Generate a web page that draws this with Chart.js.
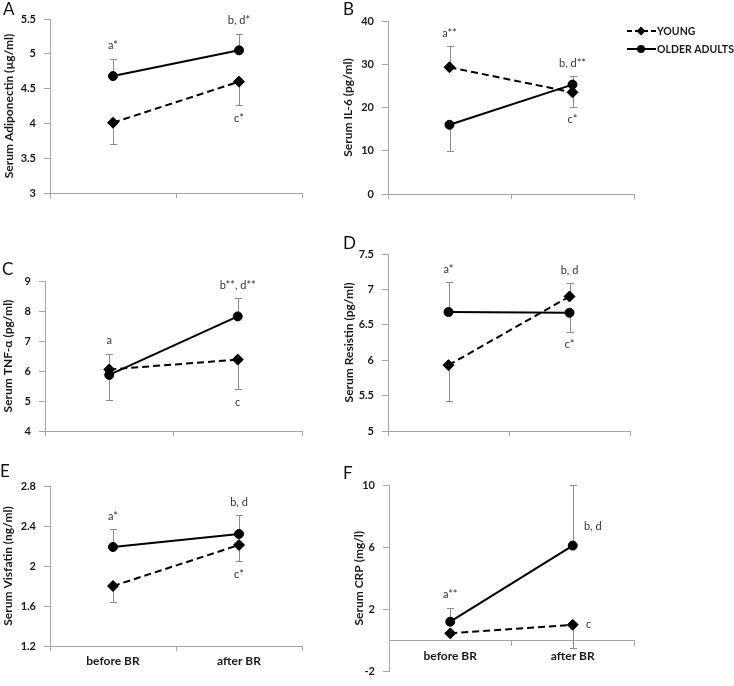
<!DOCTYPE html>
<html>
<head>
<meta charset="utf-8">
<script src="https://cdn.jsdelivr.net/npm/chart.js@4.4.0/dist/chart.umd.min.js"></script>
<style>
html, body { margin: 0; padding: 0; background: #fff; }
#wrap { position: relative; width: 734px; height: 686px; overflow: hidden; font-family: Lato, sans-serif; }
#wrap canvas { position: absolute; left: 0; top: 0; }
.lbl { position: absolute; font-size: 17px; line-height: 1; color: #111; }
</style>
</head>
<body>
<div id="wrap">
  <canvas id="cA" width="734" height="686"></canvas>
  <canvas id="cB" width="734" height="686"></canvas>
  <canvas id="cC" width="734" height="686"></canvas>
  <canvas id="cD" width="734" height="686"></canvas>
  <canvas id="cE" width="734" height="686"></canvas>
  <canvas id="cF" width="734" height="686"></canvas>
  <div class="lbl" style="left:3px;top:0px">A</div>
  <div class="lbl" style="left:343px;top:0px">B</div>
  <div class="lbl" style="left:2px;top:260px">C</div>
  <div class="lbl" style="left:343px;top:234px">D</div>
  <div class="lbl" style="left:0px;top:462px">E</div>
  <div class="lbl" style="left:343px;top:464px">F</div>
</div>
<script>
// categories (same for every panel)
const periods = ["before BR", "after BR"];
const groups = ["YOUNG", "OLDER ADULTS"];

// A - adiponectin
const adipoYoung = [4.01, 4.60];
const adipoOlder = [4.68, 5.05];
const adipoYoungErr = [-0.30, -0.34];
const adipoOlderErr = [0.25, 0.24];
const adipoMarks = ["a*", "b, d*", "c*"];

// B - IL-6
const il6Young = [29.3, 23.5];
const il6Older = [16.0, 25.3];
const il6YoungErr = [4.9, -3.3];
const il6OlderErr = [-6.1, 1.9];
const il6Marks = ["a**", "b, d**", "c*"];

// C - TNF-alpha
const tnfYoung = [6.05, 6.38];
const tnfOlder = [5.87, 7.82];
const tnfYoungErr = [-1.02, -0.98];
const tnfOlderErr = [0.71, 0.60];
const tnfMarks = ["a", "b**, d**", "c"];

// D - resistin
const resYoung = [5.93, 6.90];
const resOlder = [6.68, 6.67];
const resYoungErr = [-0.50, 0.19];
const resOlderErr = [0.42, -0.27];
const resMarks = ["a*", "b, d", "c*"];

// E - visfatin
const visYoung = [1.80, 2.21];
const visOlder = [2.19, 2.32];
const visYoungErr = [-0.16, -0.16];
const visOlderErr = [0.18, 0.19];
const visMarks = ["a*", "b, d", "c*"];

// F - CRP
const crpYoung = [0.45, 1.0];
const crpOlder = [1.2, 6.1];
const crpYoungErr = [0, -1.5];
const crpOlderErr = [0.9, 3.9];
const crpMarks = ["a**", "b, d", "c"];

const AXIS = "#a6a6a6";
const TXT = "#1a1a1a";
Chart.defaults.font.family = "Lato, sans-serif";

// vertical error bars, drawn under the markers
const errorBars = {
    id: "errbars",
    beforeDatasetsDraw(chart) {
        const ctx = chart.ctx;
        const ys = chart.scales.y;
        ctx.save();
        ctx.strokeStyle = "#8c8c8c";
        ctx.lineWidth = 1;
        chart.data.datasets.forEach((ds, di) => {
            chart.getDatasetMeta(di).data.forEach((pt, i) => {
                const e = ds.errors[i];
                if (!e) return;
                const x = Math.round(pt.x) + 0.5;
                const y0 = ys.getPixelForValue(ds.data[i]);
                const y1 = Math.round(ys.getPixelForValue(ds.data[i] + e)) + 0.5;
                ctx.beginPath();
                ctx.moveTo(x, y0);
                ctx.lineTo(x, y1);
                ctx.moveTo(x - 3.5, y1);
                ctx.lineTo(x + 3.5, y1);
                ctx.stroke();
            });
        });
        ctx.restore();
    }
};

// significance letters
function markPlugin(texts, places) {
    return {
        id: "marks",
        afterDatasetsDraw(chart) {
            const ctx = chart.ctx;
            const xs = chart.scales.x, ys = chart.scales.y;
            const sets = chart.data.datasets;
            ctx.save();
            ctx.font = "11px Lato, sans-serif";
            ctx.fillStyle = "#333";
            ctx.textAlign = "center";
            ctx.textBaseline = "middle";
            places.forEach((p, k) => {
                const x = xs.getPixelForValue(p.i);
                if (p.at === "right") {
                    const ds = sets[p.ds];
                    ctx.fillText(texts[k], x + p.dx, ys.getPixelForValue(ds.data[p.i]) + p.dy);
                    return;
                }
                const ends = [];
                sets.forEach(ds => {
                    ends.push(ds.data[p.i], ds.data[p.i] + (ds.errors[p.i] || 0));
                });
                const v = p.at === "top" ? Math.max(...ends) : Math.min(...ends);
                const y = ys.getPixelForValue(v) + (p.at === "top" ? -13 : 13);
                ctx.fillText(texts[k], x, y);
            });
            ctx.restore();
        }
    };
}

function marker(ctx, style, x, y, r) {
    ctx.beginPath();
    if (style === "circle") {
        ctx.arc(x, y, r, 0, Math.PI * 2);
    } else {
        ctx.moveTo(x, y - r);
        ctx.lineTo(x + r, y);
        ctx.lineTo(x, y + r);
        ctx.lineTo(x - r, y);
        ctx.closePath();
    }
    ctx.fill();
}

// legend sits to the right of panel B
const legendB = {
    id: "legendB",
    afterDraw(chart) {
        const ctx = chart.ctx;
        chart.data.datasets.forEach((ds, i) => {
            const y = 31 + i * 18;
            ctx.save();
            ctx.strokeStyle = "#000";
            ctx.fillStyle = "#000";
            ctx.lineWidth = 2;
            ctx.setLineDash(i === 0 ? [5, 3] : []);
            ctx.beginPath();
            ctx.moveTo(627, y);
            ctx.lineTo(656, y);
            ctx.stroke();
            ctx.setLineDash([]);
            marker(ctx, ds.pointStyle, 641, y, i === 0 ? 4.5 : 4);
            ctx.font = "bold 10.5px Lato, sans-serif";
            ctx.textBaseline = "middle";
            ctx.fillStyle = TXT;
            ctx.fillText(ds.label, 657, y + 1);
            ctx.restore();
        });
    }
};

function makePanel(id, p) {
    const W = 734, H = 686, XH = 30;
    const boxLeft = p.titleX - 7;
    const extra = [errorBars, markPlugin(p.marks, p.places)];
    if (p.legend) extra.push(legendB);
    return new Chart(document.getElementById(id), {
        type: "line",
        data: {
            labels: periods,
            datasets: [
                {
                    label: groups[0],
                    data: p.young,
                    errors: p.youngErr,
                    borderColor: "#000",
                    backgroundColor: "#000",
                    borderWidth: 2,
                    borderDash: [7, 4],
                    pointStyle: "rectRot",
                    pointRadius: 5.5,
                    pointBorderWidth: 1,
                },
                {
                    label: groups[1],
                    data: p.older,
                    errors: p.olderErr,
                    borderColor: "#000",
                    backgroundColor: "#000",
                    borderWidth: 2,
                    pointStyle: "circle",
                    pointRadius: 4.5,
                    pointBorderWidth: 1,
                },
            ],
        },
        options: {
            responsive: false,
            animation: false,
            events: [],
            layout: {
                padding: {
                    left: boxLeft,
                    top: p.area.top,
                    right: W - p.area.right,
                    bottom: p.zeroAxis ? H - p.area.bottom : H - p.area.bottom - XH,
                },
            },
            plugins: {
                legend: { display: false },
                tooltip: { enabled: false },
            },
            scales: {
                x: {
                    type: "category",
                    offset: true,
                    position: p.zeroAxis ? { y: 0 } : "bottom",
                    grid: { offset: true, drawOnChartArea: false, tickLength: 5, tickColor: AXIS },
                    border: { color: AXIS },
                    ticks: {
                        display: p.showX,
                        font: { size: 12, weight: "bold" },
                        color: TXT,
                        padding: p.zeroAxis ? 4 : 3,
                        maxRotation: 0,
                    },
                    afterFit(s) { s.height = XH; },
                },
                y: {
                    min: p.min,
                    max: p.max,
                    grid: { drawOnChartArea: false, tickLength: 6, tickColor: AXIS },
                    border: { color: AXIS },
                    ticks: {
                        stepSize: p.step,
                        font: { size: 11, weight: "bold" },
                        color: TXT,
                        padding: 8,
                        callback: v => String(+v.toFixed(2)),
                    },
                    title: {
                        display: true,
                        text: p.title,
                        font: { size: 12, weight: "bold" },
                        color: TXT,
                        padding: 0,
                    },
                    afterFit(s) { s.width = p.area.left - boxLeft; },
                },
            },
        },
        plugins: extra,
    });
}

const stdPlaces = [{ i: 0, at: "top" }, { i: 1, at: "top" }, { i: 1, at: "bottom" }];

makePanel("cA", {
    young: adipoYoung, older: adipoOlder, youngErr: adipoYoungErr, olderErr: adipoOlderErr,
    marks: adipoMarks, places: stdPlaces,
    title: "Serum Adiponectin (µg/ml)", min: 3, max: 5.5, step: 0.5,
    area: { left: 50, right: 302, top: 19, bottom: 193 }, titleX: 9, showX: false,
});
makePanel("cB", {
    young: il6Young, older: il6Older, youngErr: il6YoungErr, olderErr: il6OlderErr,
    marks: il6Marks, places: stdPlaces,
    title: "Serum IL-6 (pg/ml)", min: 0, max: 40, step: 10,
    area: { left: 388, right: 634, top: 21, bottom: 194 }, titleX: 348, showX: false, legend: true,
});
makePanel("cC", {
    young: tnfYoung, older: tnfOlder, youngErr: tnfYoungErr, olderErr: tnfOlderErr,
    marks: tnfMarks, places: stdPlaces,
    title: "Serum TNF-α (pg/ml)", min: 4, max: 9, step: 1,
    area: { left: 45, right: 302, top: 281, bottom: 431 }, titleX: 8, showX: false,
});
makePanel("cD", {
    young: resYoung, older: resOlder, youngErr: resYoungErr, olderErr: resOlderErr,
    marks: resMarks, places: stdPlaces,
    title: "Serum Resistin (pg/ml)", min: 5, max: 7.5, step: 0.5,
    area: { left: 388, right: 630, top: 254, bottom: 431 }, titleX: 349, showX: false,
});
makePanel("cE", {
    young: visYoung, older: visOlder, youngErr: visYoungErr, olderErr: visOlderErr,
    marks: visMarks, places: stdPlaces,
    title: "Serum Visfatin (ng/ml)", min: 1.2, max: 2.8, step: 0.4,
    area: { left: 50, right: 302, top: 486, bottom: 646 }, titleX: 8, showX: true,
});
makePanel("cF", {
    young: crpYoung, older: crpOlder, youngErr: crpYoungErr, olderErr: crpOlderErr,
    marks: crpMarks,
    places: [{ i: 0, at: "top" }, { i: 1, at: "right", ds: 1, dx: 20, dy: -19 }, { i: 1, at: "right", ds: 0, dx: 16, dy: 0 }],
    title: "Serum CRP (mg/l)", min: -2, max: 10, step: 4,
    area: { left: 389, right: 634, top: 485, bottom: 680 }, titleX: 359, showX: true, zeroAxis: true,
});
</script>
</body>
</html>
